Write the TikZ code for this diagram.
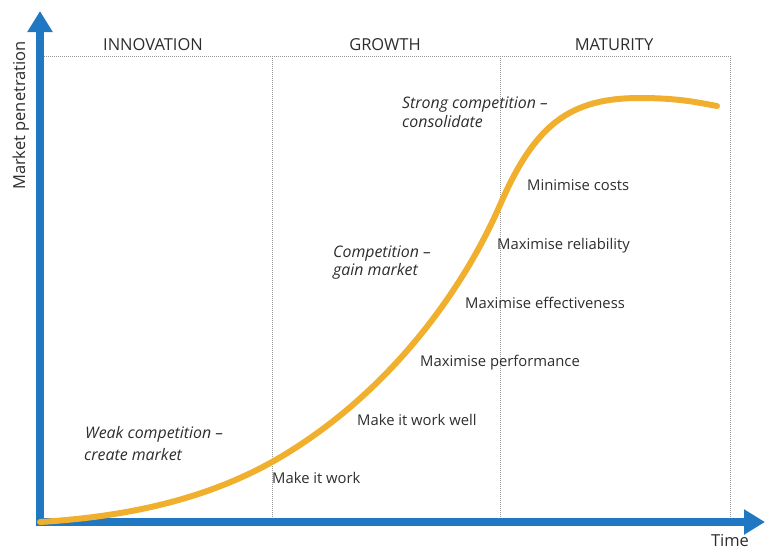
\documentclass[tikz,border=0pt]{standalone}
\usepackage{fontspec}
\setmainfont{Open Sans}
\usetikzlibrary{arrows.meta}
\definecolor{axisblue}{RGB}{31,120,193}
\definecolor{curveorange}{RGB}{240,176,46}
\definecolor{txt}{RGB}{45,45,45}
\definecolor{dotgray}{RGB}{150,150,150}
\tikzset{
  axis/.style={line width=8pt, draw=axisblue, -{Triangle[length=21pt,width=24pt]}},
  guide/.style={draw=dotgray, line width=0.8pt, dash pattern=on 0.8pt off 1.2pt},
  scurve/.style={draw=curveorange, line width=6pt, line cap=round},
  lbl/.style={anchor=base west, inner sep=0pt, text=txt, font=\fontsize{14.8}{18}\selectfont},
  ilbl/.style={lbl, font=\fontsize{15.9}{18}\selectfont\itshape},
  hdr/.style={anchor=base, inner sep=0pt, text=txt, font=\fontsize{16.5}{18}\selectfont},
  axlbl/.style={inner sep=0pt, text=txt, font=\fontsize{16.5}{18}\selectfont},
}
\begin{document}
\begin{tikzpicture}[x=1pt,y=-1pt]
\useasboundingbox (0,0) rectangle (765,550);
% guide lines
\coordinate (tl) at (44,56);
\coordinate (tr) at (730,56);
\coordinate (g1t) at (272,56);
\coordinate (g1b) at (272,518);
\coordinate (g2t) at (500,56);
\coordinate (g2b) at (500,518);
\coordinate (g3b) at (730,518);
\draw[guide] (tl) -- (tr) -- (g3b);
\draw[guide] (g1t) -- (g1b);
\draw[guide] (g2t) -- (g2b);
% axes
\coordinate (o) at (40,526);
\coordinate (ytip) at (40,11);
\coordinate (ox) at (36,522);
\coordinate (xtip) at (765,522);
\draw[axis] (o) -- (ytip);
\draw[axis] (ox) -- (xtip);
% curve
\coordinate (c0) at (40,522);
\coordinate (c1) at (272,462);
\coordinate (c2) at (500,205);
\coordinate (c3) at (640,98);
\coordinate (c4) at (717,106);
\draw[scurve] (c0) .. controls (120,517) and (200,502) .. (c1)
  .. controls (382,400) and (460,297) .. (c2)
  .. controls (535,124) and (570,98) .. (c3)
  .. controls (680,98) and (700,103) .. (c4);
% headers
\node[hdr] (innov) at (153,50) {INNOVATION};
\node[hdr] (growth) at (385,50) {GROWTH};
\node[hdr] (matur) at (614,50) {MATURITY};
% axis labels
\node[axlbl, rotate=90, anchor=base] (ylab) at (25,115.5) {Market penetration};
\node[axlbl, anchor=base] (xlab) at (730,546) {Time};
% italic labels
\node[ilbl] (strong1) at (402,108) {Strong competition –};
\node[ilbl] (strong2) at (402,127) {consolidate};
\node[ilbl] (comp1) at (333,257) {Competition –};
\node[ilbl] (comp2) at (333,275) {gain market};
\node[ilbl] (weak1) at (85,438) {Weak competition –};
\node[ilbl] (weak2) at (84,460) {create market};
% step labels
\node[lbl] (s7) at (527,190) {Minimise costs};
\node[lbl] (s6) at (497,249) {Maximise reliability};
\node[lbl] (s5) at (465,308) {Maximise effectiveness};
\node[lbl] (s4) at (420,366) {Maximise performance};
\node[lbl] (s3) at (357,425) {Make it work well};
\node[lbl] (s2) at (272,483) {Make it work};
\end{tikzpicture}
\end{document}
